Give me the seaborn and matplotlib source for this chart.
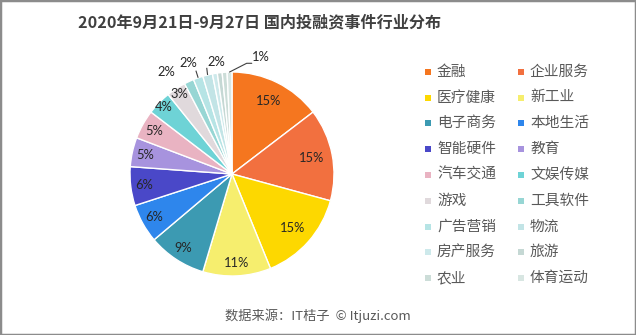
import numpy as np
import matplotlib
matplotlib.use("Agg")
import matplotlib.pyplot as plt
from matplotlib.patches import Rectangle
import seaborn as sns

# Weekly domestic investment events by industry
industries = ["金融", "企业服务", "医疗健康", "新工业", "电子商务", "本地生活",
              "智能硬件", "教育", "汽车交通", "文娱传媒", "游戏", "工具软件",
              "广告营销", "物流", "房产服务", "旅游", "农业", "体育运动"]
event_counts = [19, 19, 19, 14, 12, 8, 8, 6, 6, 5, 4, 2, 2, 2, 1, 1, 1, 1]
slice_colors = ["#F5761F", "#F2703F", "#FDD800", "#F6EE6E", "#3C9AB2", "#2E86EC",
                "#4A48C8", "#A793DE", "#E9B3C2", "#6ED3D6", "#E0D9DC", "#97D6D4",
                "#B6E4E5", "#C2E4E6", "#CDE9EB", "#C5D8D4", "#CCDDD8", "#D8E6E2"]
# label style per slice: inside, outside, outside with leader line, or none
label_modes = ["in"] * 11 + ["out", "lead", "lead", "", "", "", "elbow"]
# outside labels: angular nudge (deg, clockwise) and radius
out_nudge = {11: (-7.6, 1.19), 12: (-2.2, 1.17), 13: (5.7, 1.11), 17: (15.3, 1.18)}

title = "2020年9月21日-9月27日 国内投融资事件行业分布"
source = "数据来源：IT桔子  © Itjuzi.com"

sns.set_theme(style="white")
plt.rcParams["font.family"] = ["Noto Sans CJK SC", "DejaVu Sans"]
palette = sns.color_palette(slice_colors)

W, H = 636, 335
fig = plt.figure(figsize=(W / 100, H / 100), dpi=100)
fig.patch.set_facecolor("white")

# pie centred at (232, 174) px with a 102 px radius
cx, cy, r = 232, 174, 102
ax = fig.add_axes([(cx - r) / W, (H - cy - r) / H, 2 * r / W, 2 * r / H])
wedges, _ = ax.pie(event_counts, colors=palette, startangle=90, counterclock=False,
                   radius=1, wedgeprops=dict(edgecolor="white", linewidth=1.0))
ax.set_xlim(-1, 1)
ax.set_ylim(-1, 1)
ax.set_aspect("equal")
ax.set_axis_off()

total = sum(event_counts)
cum = np.cumsum([0] + event_counts)
txt_color = "#262626"
pct_font = ["Lato", "DejaVu Sans"]
for i, cnt in enumerate(event_counts):
    mode = label_modes[i]
    if not mode:
        continue
    share = cnt / total
    label = f"{round(share * 100)}%"
    mid = (cum[i] + cnt / 2) / total * 360.0  # clockwise from top
    if mode == "in":
        rr = 0.8 if share >= 0.12 else (0.87 if share >= 0.045 else 0.94)
        th = np.deg2rad(mid)
        ax.text(rr * np.sin(th), rr * np.cos(th), label, ha="center", va="center",
                fontsize=9.3, color=txt_color, family=pct_font)
        continue
    dth, rr = out_nudge[i]
    th = np.deg2rad(mid + dth)
    tx, ty = rr * np.sin(th), rr * np.cos(th)
    ax.text(tx, ty, label, ha="center", va="center", fontsize=9.3, color=txt_color,
            family=pct_font, clip_on=False)
    th0 = np.deg2rad(mid)
    ex, ey = np.sin(th0), np.cos(th0)
    if mode == "lead":
        ax.plot([ex, ex + 0.06 * np.sin(th)], [ey, ey + 0.07], color="#404040",
                lw=0.8, clip_on=False, solid_capstyle="butt")
    elif mode == "elbow":
        kx, ky = tx - 0.14, ty - 0.06
        ax.plot([ex, kx, kx + 0.05], [ey, ky, ky], color="#404040", lw=0.8,
                clip_on=False)

# two-column legend
row_y0, row_dy = 71.7, 25.8
col_sq_x = [425, 518]
col_tx_x = [437, 530]
sq = 6
for i, name in enumerate(industries):
    row, col = i // 2, i % 2
    y = row_y0 + row * row_dy
    fig.patches.append(Rectangle(((col_sq_x[col]) / W, (H - y - sq / 2) / H),
                                 sq / W, sq / H, transform=fig.transFigure,
                                 facecolor=slice_colors[i], edgecolor="none"))
    fig.text(col_tx_x[col] / W, (H - y) / H, name, ha="left", va="center",
             fontsize=10.6, color="#595959")

fig.text(260 / W, (H - 22) / H, title, ha="center", va="center", fontsize=11.6,
         fontweight="bold", color="#404040")
fig.text(318 / W, (H - 316) / H, source, ha="center", va="center", fontsize=9.5,
         color="#595959")

# outer frame
fig.patches.append(Rectangle((0, 0), 1, 1, transform=fig.transFigure,
                             facecolor="none", edgecolor="#8c8c8c", linewidth=2.5))

fig.savefig("out.png", dpi=100, facecolor="white")
